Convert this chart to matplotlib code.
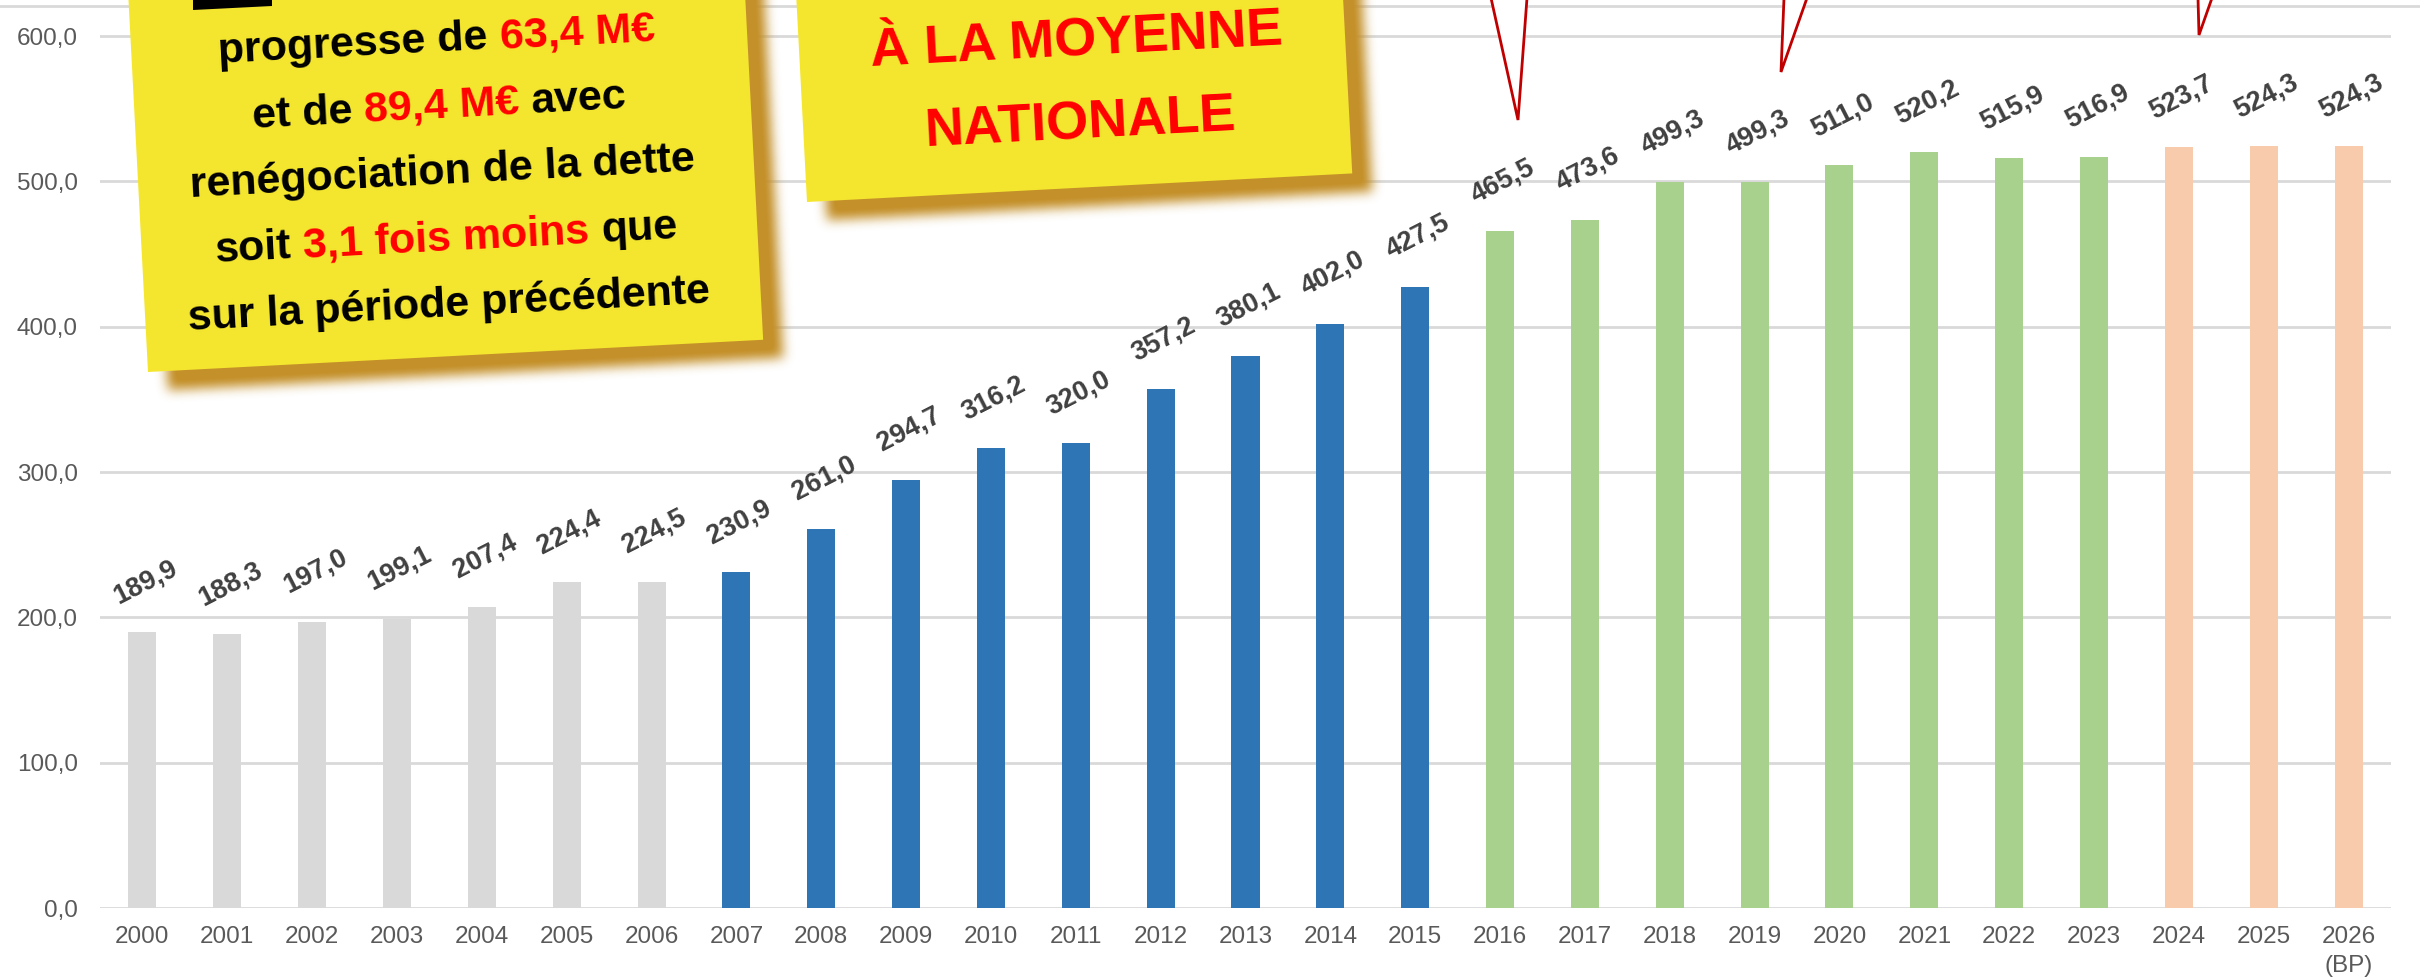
import numpy as np
import matplotlib
matplotlib.use("Agg")
import matplotlib.pyplot as plt
from matplotlib.patches import Polygon
from matplotlib.lines import Line2D
from matplotlib.path import Path
from matplotlib.ticker import FuncFormatter

years = ["2000", "2001", "2002", "2003", "2004", "2005", "2006", "2007", "2008",
         "2009", "2010", "2011", "2012", "2013", "2014", "2015", "2016", "2017",
         "2018", "2019", "2020", "2021", "2022", "2023", "2024", "2025", "2026\n(BP)"]
values = [189.9, 188.3, 197.0, 199.1, 207.4, 224.4, 224.5, 230.9, 261.0, 294.7,
          316.2, 320.0, 357.2, 380.1, 402.0, 427.5, 465.5, 473.6, 499.3, 499.3,
          511.0, 520.2, 515.9, 516.9, 523.7, 524.3, 524.3]
periods = ["avant"] * 7 + ["p1"] * 9 + ["p2"] * 8 + ["bp"] * 3
period_colors = {"avant": "#D9D9D9", "p1": "#2E75B6", "p2": "#A9D18E", "bp": "#F8CBAD"}

note_left = [
    [("progresse de", "black"), ("63,4 M€", "#FF0000")],
    [("et de", "black"), ("89,4 M€", "#FF0000"), ("avec", "black")],
    [("renégociation de la dette", "black")],
    [("soit", "black"), ("3,1 fois moins", "#FF0000"), ("que", "black")],
    [("sur la période précédente", "black")],
]
note_right = [
    [("À LA MOYENNE", "#FF0000")],
    [("NATIONALE", "#FF0000")],
]

W, H = 2420, 980
FONT = ["Liberation Sans", "DejaVu Sans"]
plt.rcParams["font.family"] = FONT

fig = plt.figure(figsize=(W / 100, H / 100), dpi=100)
fig.patch.set_facecolor("white")

# axes: x from 100 to 2391 px, y=0 at 908 px, y=600 at 36 px
ymax = 600 + 36 / (872 / 600)
ax = fig.add_axes([100 / W, 1 - 908 / H, (2391 - 100) / W, 908 / H])
x = np.arange(len(years))
cols = [period_colors[p] for p in periods]
ax.bar(x, values, width=0.33, color=cols, zorder=2)
ax.set_xlim(-0.5, len(years) - 0.5)
ax.set_ylim(0, ymax)
ax.set_yticks(np.arange(0, 601, 100))
ax.yaxis.set_major_formatter(FuncFormatter(lambda v, p: f"{v:.1f}".replace(".", ",")))
ax.set_xticks(x)
ax.set_xticklabels(years, linespacing=1.4)
ax.tick_params(axis="both", length=0, labelsize=17.5, labelcolor="#595959")
ax.tick_params(axis="y", pad=16)
ax.tick_params(axis="x", pad=13)
ax.grid(axis="y", color="#D9D9D9", lw=2, zorder=0)
ax.set_axisbelow(True)
for s in ax.spines.values():
    s.set_visible(False)
ax.patch.set_alpha(0)

for xi, v in zip(x, values):
    ax.annotate(f"{v:.1f}".replace(".", ","), (xi, v), xytext=(2, 36),
                textcoords="offset points", ha="center", va="center",
                rotation=27, rotation_mode="anchor", fontsize=19.5,
                fontweight="bold", color="#404040", zorder=3)

# chart border line at the top
fig.add_artist(Line2D([0, 1], [1 - 6 / H] * 2, color="#D9D9D9", lw=2, zorder=0.5))


def fx(px):
    return px / W


def fy(py):
    return 1 - py / H


def rect_corners(bl, width, height, ang):
    a = np.deg2rad(ang)
    d = np.array([np.cos(a), -np.sin(a)])   # along baseline (image coords, y down)
    u = np.array([-np.sin(a), -np.cos(a)])  # upward
    bl = np.array(bl, float)
    return np.array([bl, bl + width * d, bl + width * d + height * u, bl + height * u])


def blur1d(a, r, axis):
    a = np.swapaxes(a, axis, -1)
    pad = np.pad(a, [(0, 0)] * (a.ndim - 1) + [(r + 1, r)], mode="edge")
    c = np.cumsum(pad, axis=-1)
    out = (c[..., 2 * r + 1:] - c[..., :-2 * r - 1]) / (2 * r + 1)
    return np.swapaxes(out, axis, -1)


ANG = 3.0
left_rect = rect_corners((148, 372), 616, 500, ANG)
right_rect = rect_corners((807, 202), 546, 400, ANG)

# blurred drop shadows
yy, xx = np.mgrid[0:H, 0:W]
pts = np.column_stack([xx.ravel() + 0.5, yy.ravel() + 0.5])
mask = np.zeros(H * W)
for rc in (left_rect, right_rect):
    mask = np.maximum(mask, Path(rc + np.array([20, 18])).contains_points(pts))
mask = mask.reshape(H, W)
for _ in range(3):
    mask = blur1d(blur1d(mask, 5, 0), 5, 1)
shadow = np.zeros((H, W, 4))
shadow[..., :3] = np.array([196, 144, 42]) / 255
shadow[..., 3] = np.clip(mask * 1.05, 0, 1)
fig.figimage(shadow, xo=0, yo=0, origin="upper", zorder=1)

for rc in (left_rect, right_rect):
    fig.add_artist(Polygon(np.column_stack([fx(rc[:, 0]), fy(rc[:, 1])]),
                           closed=True, transform=fig.transFigure,
                           facecolor="#F4E52F", edgecolor="none", zorder=2))

# black remnant at the top of the left note
blk = np.array([[193, -2], [272, -2], [272, 6], [193, 10]])
fig.add_artist(Polygon(np.column_stack([fx(blk[:, 0]), fy(blk[:, 1])]),
                       transform=fig.transFigure, facecolor="black",
                       edgecolor="none", zorder=3))

# callout tails
tails = [
    [(1491, -2), (1518, 120), (1527, -2)],
    [(1784, -2), (1781, 72), (1807, -2)],
    [(2198, -2), (2199, 35), (2212, -2)],
]
for t in tails:
    t = np.array(t, float)
    fig.add_artist(Polygon(np.column_stack([fx(t[:, 0]), fy(t[:, 1])]),
                           closed=False, transform=fig.transFigure,
                           facecolor="white", edgecolor="#C00000", lw=2, zorder=2))

renderer = fig.canvas.get_renderer()


def text_w(s, size):
    t = fig.text(0, 0, s, fontsize=size, fontweight="bold")
    w = t.get_window_extent(renderer).width
    t.remove()
    return w


def rich_line(segs, center, size, ang):
    sp = text_w("x x", size) - text_w("xx", size)
    widths = [text_w(s, size) for s, _ in segs]
    total = sum(widths) + sp * (len(segs) - 1)
    a = np.deg2rad(ang)
    d = np.array([np.cos(a), -np.sin(a)])
    pos = np.array(center, float) - d * total / 2
    for (s, c), w in zip(segs, widths):
        fig.text(fx(pos[0]), fy(pos[1]), s, fontsize=size, fontweight="bold",
                 color=c, ha="left", va="baseline", rotation=ang,
                 rotation_mode="anchor", zorder=4)
        pos = pos + d * (w + sp)


left_centers = [(437, 52), (440, 118), (443, 184), (446.5, 250), (450, 316)]
for segs, c in zip(note_left, left_centers):
    rich_line(segs, c, 31, ANG)

right_centers = [(1077, 55), (1081, 138)]
for segs, c in zip(note_right, right_centers):
    rich_line(segs, c, 39, ANG)

fig.savefig("out.png", dpi=100)
